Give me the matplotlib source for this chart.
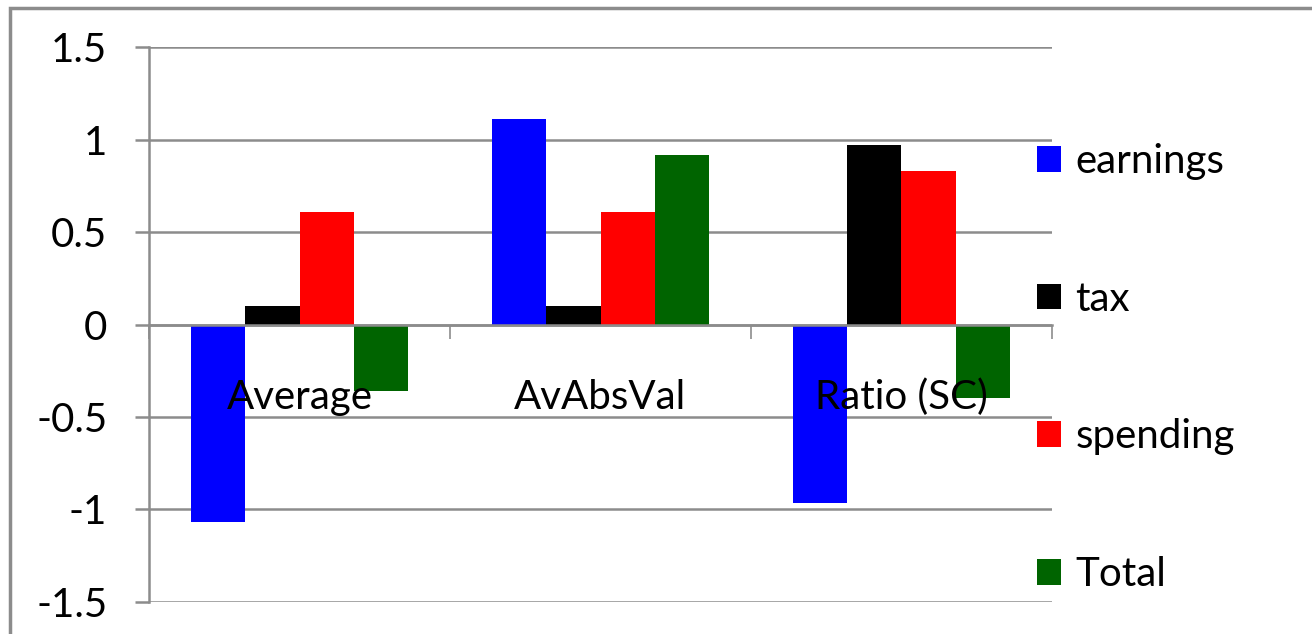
import matplotlib
matplotlib.use("Agg")
import matplotlib.pyplot as plt
from matplotlib.patches import Rectangle
import numpy as np

categories = ["Average", "AvAbsVal", "Ratio (SC)"]
series_names = ["earnings", "tax", "spending", "Total"]
earnings = [-1.07, 1.11, -0.965]
tax = [0.10, 0.10, 0.97]
spending = [0.61, 0.61, 0.83]
total = [-0.36, 0.915, -0.40]
colors = ["#0000ff", "#000000", "#ff0000", "#006400"]

plt.rcParams['font.family'] = ['Lato', 'DejaVu Sans']
FS = 29

fig = plt.figure(figsize=(13.12, 6.34), dpi=100)
ax = fig.add_axes([149 / 1312, 1 - 601.7 / 634, (1052 - 149) / 1312, (601.7 - 47.3) / 634])

# outer chart border
fig.patches.append(Rectangle((10 / 1312, -0.05), 1.1, 1 - 8 / 634 + 0.05,
                             transform=fig.transFigure, fill=False,
                             edgecolor="#8c8c8c", linewidth=2.5))

x = np.arange(len(categories))
width = 0.18
all_series = [earnings, tax, spending, total]
for i, (name, vals) in enumerate(zip(series_names, all_series)):
    ax.bar(x + (i - 1.5) * width, vals, width, color=colors[i], label=name, zorder=3)

ax.set_xlim(-0.5, 2.5)
ax.set_ylim(-1.5, 1.5)
ax.set_yticks([-1.5, -1, -0.5, 0, 0.5, 1, 1.5])
ax.set_yticklabels(["-1.5", "-1", "-0.5", "0", "0.5", "1", "1.5"])
ax.yaxis.grid(True, color="#8c8c8c", linewidth=1.8, zorder=0)

ax.spines['top'].set_visible(False)
ax.spines['right'].set_visible(False)
ax.spines['left'].set_color("#8c8c8c")
ax.spines['left'].set_linewidth(1.8)
ax.spines['bottom'].set_position(('data', 0))
ax.spines['bottom'].set_color("#8c8c8c")
ax.spines['bottom'].set_linewidth(1.8)
ax.spines['bottom'].set_zorder(4)

ax.set_xticks([-0.5, 0.5, 1.5, 2.5])
ax.set_xticklabels([])
ax.tick_params(axis='x', direction='out', length=10, width=1.2, color="#8c8c8c")
ax.tick_params(axis='y', direction='out', length=10, width=1.8, color="#8c8c8c",
               labelsize=FS, pad=20)

for xi, cat in zip(x, categories):
    ax.text(xi, -0.395, cat, ha='center', va='center', fontsize=FS, zorder=5)

ax.legend(loc='center left', bbox_to_anchor=(1037 / 1312, 1 - 368 / 634),
          bbox_transform=fig.transFigure, frameon=False, fontsize=FS,
          handlelength=0.6, handleheight=0.6, handletextpad=0.35,
          labelspacing=2.5, borderpad=0, borderaxespad=0)

fig.savefig("out.png", dpi=100)
